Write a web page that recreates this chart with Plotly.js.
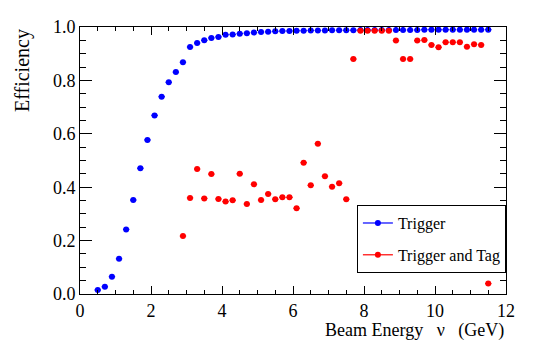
<!DOCTYPE html>
<html>
<head>
<meta charset="utf-8">
<script src="https://cdn.plot.ly/plotly-3.0.1.min.js"></script>
<style>
  html, body { margin: 0; padding: 0; background: #fff; }
  #graph { width: 533px; height: 342px; }
</style>
</head>
<body>
<div id="graph"></div>
<script>
// beam energy bin centres (GeV)
const triggerX = [0.5, 0.7, 0.9, 1.1, 1.3, 1.5, 1.7, 1.9, 2.1, 2.3, 2.5, 2.7, 2.9, 3.1, 3.3, 3.5, 3.7, 3.9, 4.1,
  4.3, 4.5, 4.7, 4.9, 5.1, 5.3, 5.5, 5.7, 5.9, 6.1, 6.3, 6.5, 6.7, 6.9, 7.1, 7.3, 7.5, 7.7, 7.9, 8.1,
  8.3, 8.5, 8.7, 8.9, 9.1, 9.3, 9.5, 9.7, 9.9, 10.1, 10.3, 10.5, 10.7, 10.9, 11.1, 11.3, 11.5];
const triggerEff = [0.015, 0.027, 0.065, 0.132, 0.242, 0.352, 0.471, 0.577, 0.669, 0.739, 0.793, 0.831, 0.868,
  0.925, 0.940, 0.950, 0.959, 0.963, 0.971, 0.972, 0.975, 0.977, 0.979, 0.981, 0.982, 0.984, 0.985, 0.985,
  0.986, 0.986, 0.987, 0.987, 0.987, 0.988, 0.988, 0.988, 0.988, 0.989, 0.989, 0.989, 0.989, 0.989, 0.989,
  0.989, 0.989, 0.989, 0.990, 0.990, 0.990, 0.990, 0.990, 0.990, 0.990, 0.990, 0.990, 0.990];

const tagX = [2.9, 3.1, 3.3, 3.5, 3.7, 3.9, 4.1, 4.3, 4.5, 4.7, 4.9, 5.1, 5.3, 5.5, 5.7, 5.9, 6.1, 6.3, 6.5,
  6.7, 6.9, 7.1, 7.3, 7.5, 7.7, 7.9, 8.1, 8.3, 8.5, 8.7, 8.9, 9.1, 9.3, 9.5, 9.7, 9.9, 10.1, 10.3, 10.5,
  10.7, 10.9, 11.1, 11.3, 11.5];
const tagEff = [0.217, 0.360, 0.468, 0.358, 0.449, 0.356, 0.346, 0.351, 0.450, 0.337, 0.411, 0.352, 0.375,
  0.355, 0.362, 0.362, 0.321, 0.492, 0.407, 0.563, 0.441, 0.402, 0.415, 0.355, 0.880, 0.986, 0.986, 0.986,
  0.986, 0.986, 0.949, 0.880, 0.880, 0.949, 0.951, 0.933, 0.924, 0.943, 0.943, 0.943, 0.926, 0.935, 0.933,
  0.039];

const serif = 'Liberation Serif';

function series(x, y, color, name) {
  return {
    x: x, y: y, name: name, type: 'scatter', mode: 'markers', showlegend: false,
    marker: {color: color, size: 6},
    error_x: {type: 'constant', value: 0.09, color: color, thickness: 1.2, width: 0}
  };
}
// legend-only entries so the key shows a marker with a line through it
function key(color, name) {
  return {
    x: [null], y: [null], name: name, type: 'scatter', mode: 'lines+markers',
    legendgroup: name, line: {color: color, width: 1.2}, marker: {color: color, size: 6}
  };
}

const data = [
  series(triggerX, triggerEff, '#0000ff', 'Trigger'),
  series(tagX, tagEff, '#ff0000', 'Trigger and Tag'),
  key('#0000ff', 'Trigger'),
  key('#ff0000', 'Trigger and Tag')
];

function axis(extra) {
  return Object.assign({
    showgrid: false, zeroline: false, showline: true, linecolor: '#000', linewidth: 1,
    mirror: 'ticks', ticks: 'inside', tickcolor: '#000', tickwidth: 1,
    tickfont: {family: serif, size: 18, color: '#000'}
  }, extra);
}

const layout = {
  width: 533, height: 342,
  margin: {l: 80, r: 27, t: 27, b: 48},
  paper_bgcolor: '#fff', plot_bgcolor: '#fff',
  font: {family: serif, color: '#000', size: 16},
  xaxis: axis({
    range: [0, 12], dtick: 2, tick0: 0, ticklen: 8,
    minor: {dtick: 0.5, ticklen: 4, ticks: 'inside', tickcolor: '#000'}
  }),
  yaxis: axis({
    range: [0, 1], dtick: 0.2, tick0: 0, ticklen: 12, tickformat: '.1f',
    minor: {dtick: 0.05, ticklen: 6, ticks: 'inside', tickcolor: '#000'}
  }),
  legend: {
    x: 0.65, y: 0.333, xanchor: 'left', yanchor: 'top',
    bordercolor: '#000', borderwidth: 1, bgcolor: '#fff',
    font: {family: serif, size: 16, color: '#000'},
    traceorder: 'grouped', tracegroupgap: 8, itemwidth: 30
  },
  annotations: [
    {text: 'Beam Energy\u00a0\u00a0\u00a0\u03bd\u00a0\u00a0\u00a0(GeV)', xref: 'paper', yref: 'paper', x: 1, y: -0.135,
      xanchor: 'right', yanchor: 'middle', showarrow: false, font: {family: serif, size: 18, color: '#000'}},
    {text: 'Efficiency', xref: 'paper', yref: 'paper', x: -0.135, y: 1, textangle: -90,
      xanchor: 'center', yanchor: 'top', showarrow: false, font: {family: serif, size: 20, color: '#000'}}
  ]
};

Plotly.newPlot('graph', data, layout, {displayModeBar: false, staticPlot: true}).then(function (gd) {
  // the tick and legend labels came out in the default face; set it on the nodes directly
  gd.querySelectorAll('.xtick text, .ytick text, .legendtext').forEach(function (t) {
    t.style.fontFamily = '"Liberation Serif", serif';
    t.style.fill = '#000';
    t.style.fontSize = t.classList.contains('legendtext') ? '16px' : '18px';
  });
});
</script>
</body>
</html>
